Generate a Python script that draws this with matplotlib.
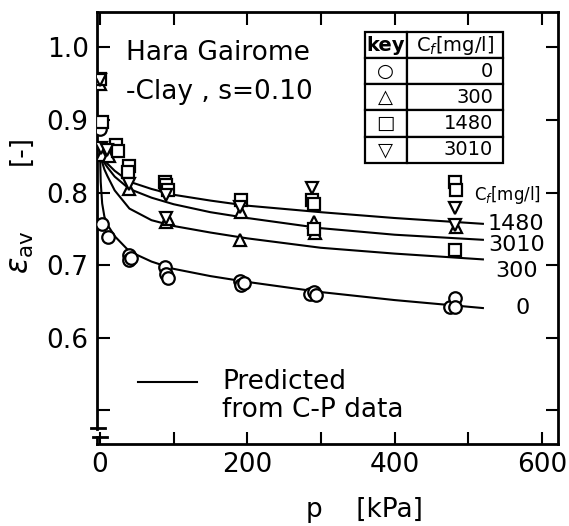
import matplotlib
matplotlib.use("Agg")
import matplotlib.pyplot as plt

plt.rcParams['font.family'] = ['DejaVu Sans']
plt.rcParams['mathtext.fontset'] = 'dejavusans'

# measured points, C_f = 0 / 300 / 1480 / 3010 mg/l
p_0 = [0, 3, 11, 40, 40, 42, 88, 90, 92, 190, 192, 195, 285, 290, 293, 475, 482, 482]
e_0 = [0.887, 0.757, 0.739, 0.714, 0.707, 0.710, 0.697, 0.688, 0.683, 0.678, 0.673, 0.675,
       0.660, 0.663, 0.659, 0.643, 0.655, 0.643]

p_300 = [0, 3, 12, 40, 90, 92, 190, 192, 290, 292, 483]
e_300 = [0.950, 0.852, 0.850, 0.805, 0.760, 0.764, 0.735, 0.773, 0.760, 0.745, 0.752]

p_1480 = [0, 3, 22, 24, 40, 38, 88, 90, 92, 192, 288, 290, 290, 482, 484, 482]
e_1480 = [0.957, 0.897, 0.866, 0.857, 0.836, 0.829, 0.815, 0.810, 0.804, 0.790, 0.790,
          0.784, 0.750, 0.814, 0.804, 0.721]

p_3010 = [0, 2, 10, 40, 90, 90, 190, 288, 482, 482]
e_3010 = [0.955, 0.862, 0.858, 0.812, 0.797, 0.765, 0.780, 0.806, 0.779, 0.756]

# predicted curves from C-P data
p_pred = [0, 1, 3, 6, 10, 20, 40, 70, 100, 150, 200, 300, 400, 520]
pred_1480 = [0.860, 0.856, 0.850, 0.845, 0.840, 0.830, 0.815, 0.805, 0.797, 0.789, 0.782, 0.773, 0.765, 0.757]
pred_3010 = [0.860, 0.855, 0.848, 0.841, 0.835, 0.822, 0.805, 0.793, 0.784, 0.773, 0.765, 0.751, 0.742, 0.735]
pred_300 = [0.860, 0.852, 0.842, 0.832, 0.823, 0.803, 0.778, 0.762, 0.754, 0.745, 0.737, 0.724, 0.716, 0.708]
pred_0 = [0.860, 0.815, 0.785, 0.767, 0.756, 0.740, 0.719, 0.705, 0.695, 0.685, 0.677, 0.663, 0.652, 0.641]

key_symbols = ['○', '△', '□', '▽']
key_values = ['0', '300', '1480', '3010']

fig = plt.figure(figsize=(5.69, 5.26), dpi=100)
ax = fig.add_axes([0.1705, 0.1559, 0.8102, 0.8213])
ax.set_xlim(-4, 622)
ax.set_ylim(0.4538, 1.0487)

for yc in [pred_1480, pred_3010, pred_300, pred_0]:
    ax.plot(p_pred, yc, color='black', lw=1.5, zorder=2)

mk = dict(linestyle='none', mfc='white', mec='black', mew=1.6, zorder=3)
ax.plot(p_0, e_0, marker='o', ms=9, **mk)
ax.plot(p_300, e_300, marker='^', ms=9, **mk)
ax.plot(p_1480, e_1480, marker='s', ms=8, **mk)
ax.plot(p_3010, e_3010, marker='v', ms=9, **mk)

ax.set_xticks(range(0, 601, 100))
ax.set_xticklabels(['0', '', '200', '', '400', '', '600'])
ax.set_yticks([0.5, 0.6, 0.7, 0.8, 0.9, 1.0])
ax.set_yticklabels(['', '0.6', '0.7', '0.8', '0.9', '1.0'])
ax.tick_params(direction='in', length=9, width=1.5, labelsize=19, top=True, right=True,
               pad=6)
for s in ax.spines.values():
    s.set_linewidth(2)

# axis break on the left spine
ax.spines['left'].set_bounds(0.474, 1.0487)
ax.plot([0, 0], [0, 0.0162], color='black', lw=2, transform=ax.transAxes, clip_on=False)
ax.plot([-0.013, 0.017], [0.037, 0.037], color='black', lw=2, transform=ax.transAxes, clip_on=False)
ax.plot([-0.009, 0.022], [0.0162, 0.0162], color='black', lw=2, transform=ax.transAxes, clip_on=False)

ax.text(0.062, 0.905, 'Hara Gairome', transform=ax.transAxes, fontsize=19, va='center')
ax.text(0.062, 0.815, '-Clay , s=0.10', transform=ax.transAxes, fontsize=19, va='center')

# key table
tab = ax.table(cellText=[[s, v] for s, v in zip(key_symbols, key_values)],
               colLabels=['key', r'C$_f$[mg/l]'],
               colWidths=[0.091, 0.208], cellLoc='right',
               bbox=[0.581, 0.6515, 0.299, 0.3014])
tab.auto_set_font_size(False)
for (r, c), cell in tab.get_celld().items():
    cell.set_linewidth(1.6)
    cell.get_text().set_fontsize(14)
    if c == 0:
        cell.get_text().set_ha('center')
        cell._loc = 'center'
tab.get_celld()[(0, 0)].get_text().set_fontweight('bold')

# curve labels
ax.text(508, 0.797, r'C$_f$[mg/l]', fontsize=12, va='center')
ax.text(527, 0.757, '1480', fontsize=16, va='center')
ax.text(527, 0.728, '3010', fontsize=16, va='center')
ax.text(595, 0.692, '300', fontsize=16, va='center', ha='right')
ax.text(574, 0.641, '0', fontsize=16, va='center', ha='center')

# legend
ax.plot([52, 132], [0.539, 0.539], color='black', lw=1.5)
ax.text(166, 0.539, 'Predicted', fontsize=19, va='center')
ax.text(166, 0.500, 'from C-P data', fontsize=19, va='center')

fig.text(0.64, 0.03, 'p    [kPa]', fontsize=19, ha='center', va='center')
fig.text(0.037, 0.715, '[-]', fontsize=19, rotation=90, ha='center', va='center')
fig.text(0.037, 0.52, r'$\varepsilon_{\rm av}$', fontsize=22, rotation=90, ha='center', va='center')

fig.savefig('out.png', dpi=100)
